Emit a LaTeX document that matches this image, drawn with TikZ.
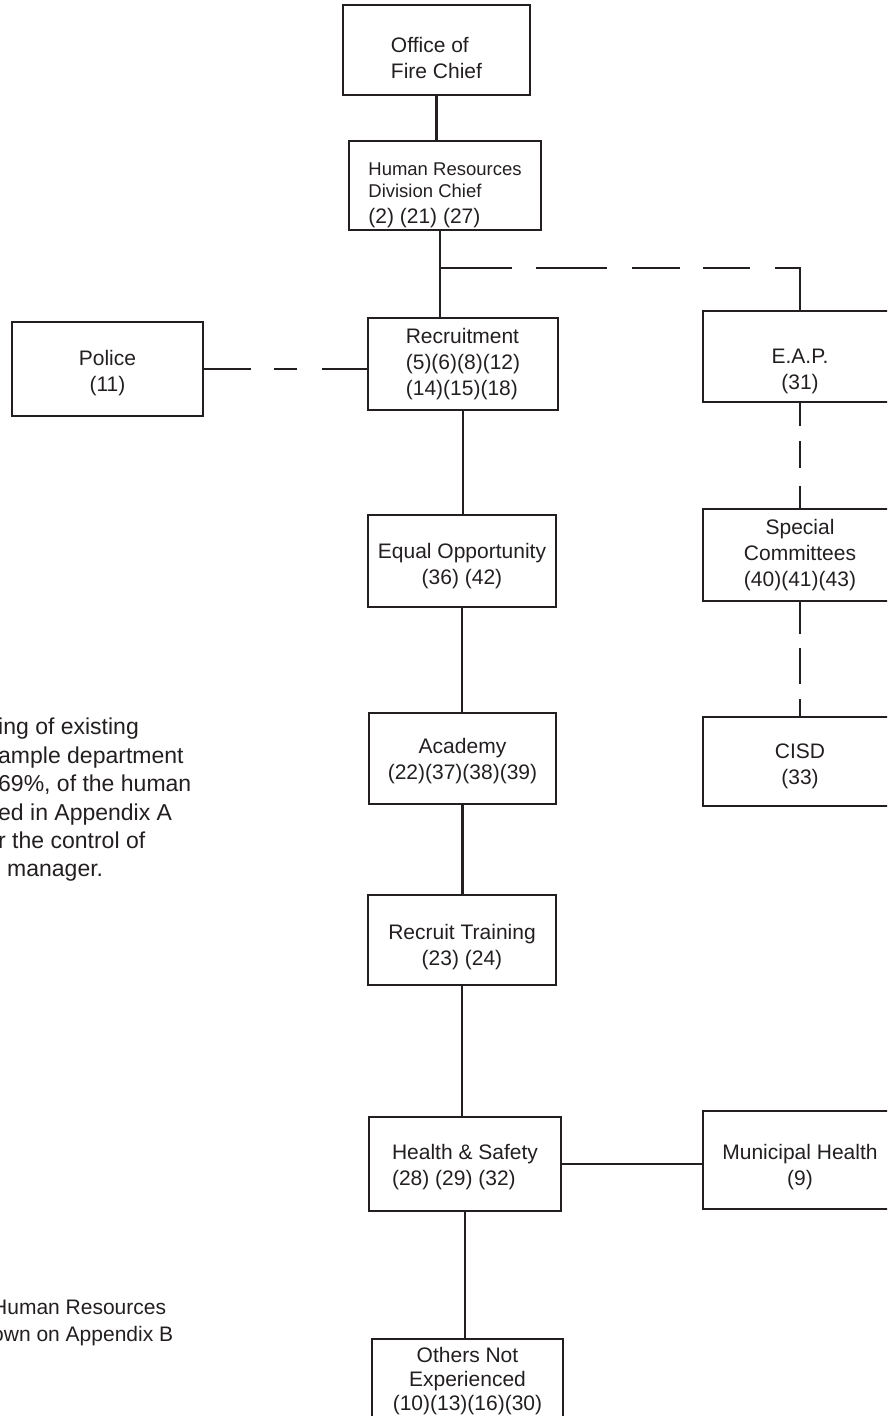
\documentclass[tikz,border=0pt]{standalone}
\usepackage{fontspec}
\setmainfont{Liberation Sans}
\definecolor{ink}{HTML}{231F20}
\newcommand{\boxfont}{\fontsize{21}{26}\selectfont}
\newcommand{\hrfont}{\fontsize{18.5}{22}\selectfont}
\newcommand{\dropby}[1]{\rule{0pt}{\dimexpr15.5pt+#1pt*2\relax}}
\tikzset{
    unit/.style={draw=ink, text=ink, line width=2.4pt, inner sep=0pt,
        minimum width=190pt, minimum height=90pt, align=center, font=\boxfont},
    link/.style={draw=ink, line width=2.4pt},
    note/.style={text=ink, inner sep=0pt, align=left, anchor=north west}
}

\begin{document}
\begin{tikzpicture}[x=1pt,y=-1pt]%
    \useasboundingbox (0,0) rectangle (887,1416);
    \clip (0,0) rectangle (887,1416);
    \begin{scope}
        \node[unit, minimum width=187pt, align=left] (fire) at (436.5,50) {\dropby{8}Office of\\Fire Chief};
        \node[unit, minimum width=192pt, minimum height=89pt, align=left] (hr) at (445,185.5)
            {{\hrfont\dropby{8}Human Resources}\\[-4pt]{\hrfont Division Chief}\\(2) (21) (27)};
        \node[unit, minimum height=92pt, align=left] (recr) at (463,364) {Recruitment\\(5)(6)(8)(12)\\(14)(15)(18)};
        \node[unit, minimum width=191pt, minimum height=94pt] (police) at (107.5,369) {\dropby{4}Police\\(11)};
        \node[unit, minimum width=194pt, minimum height=91pt] (eap) at (800,356.5) {\dropby{14}E.A.P.\\(31)};
        \node[unit, minimum width=194pt, minimum height=92pt] (special) at (800,555) {Special\\Committees\\(40)(41)(43)};
        \node[unit, minimum width=194pt, minimum height=89pt] (cisd) at (800,761.5) {\dropby{4}CISD\\(33)};
        \node[unit, minimum width=188pt, minimum height=92pt] (eqopp) at (462,561) {\dropby{5}Equal Opportunity\\(36) (42)};
        \node[unit, minimum width=187pt, minimum height=91pt] (academy) at (462.5,758.5) {\dropby{2}Academy\\(22)(37)(38)(39)};
        \node[unit, minimum width=188pt] (training) at (462,940) {\dropby{7}Recruit Training\\(23) (24)};
        \node[unit, minimum width=192pt, minimum height=94pt, align=left] (health) at (465,1164) {\dropby{3}Health \& Safety\\(28) (29) (32)};
        \node[unit, minimum width=194pt, minimum height=98pt] (municipal) at (800,1160) {\dropby{7}Municipal Health\\(9)};
        \node[unit, minimum width=191pt] (others) at (467.5,1384)
            {Others Not\\[-2pt]Experienced\\[-2pt](10)(13)(16)(30)\rule[-10pt]{0pt}{0pt}};
    \end{scope}

    \node[note, font=\fontsize{23}{28.4}\selectfont] (remark) at (-2,718)
        {ing of existing\\ample department\\69\%, of the human\\ed in Appendix A\\r the control of\\\hspace*{9pt}manager.};
    \node[note, font=\fontsize{21}{27}\selectfont] (appendix) at (-8,1300)
        {Human Resources\\own on Appendix B};

    \coordinate (split) at (440,268);
    \draw[link] (fire) -- (fire |- hr.north);
    \draw[link] (split |- hr.south) -- (split |- recr.north);
    \draw[link, dash pattern=on 72pt off 24pt on 71pt off 25pt on 48pt off 23pt on 47pt off 25pt on 200pt]
        (split) -| (eap.north);
    \draw[link, dash pattern=on 47pt off 23pt on 23pt off 25pt on 100pt] (police) -- (police -| recr.west);
    \draw[link, dash pattern=on 23pt off 15pt on 27pt off 18pt on 60pt] (eap) -- (special);
    \draw[link, dash pattern=on 32pt off 14pt on 36pt off 15pt on 60pt] (special) -- (cisd);
    \draw[link] (recr) -- (recr |- eqopp.north);
    \draw[link] (eqopp) -- (eqopp |- academy.north);
    \draw[link] (academy) -- (academy |- training.north);
    \draw[link] (training) -- (training |- health.north);
    \draw[link] (health) -- (health -| municipal.west);
    \draw[link] (health) -- (health |- others.north);
\end{tikzpicture}
\end{document}
